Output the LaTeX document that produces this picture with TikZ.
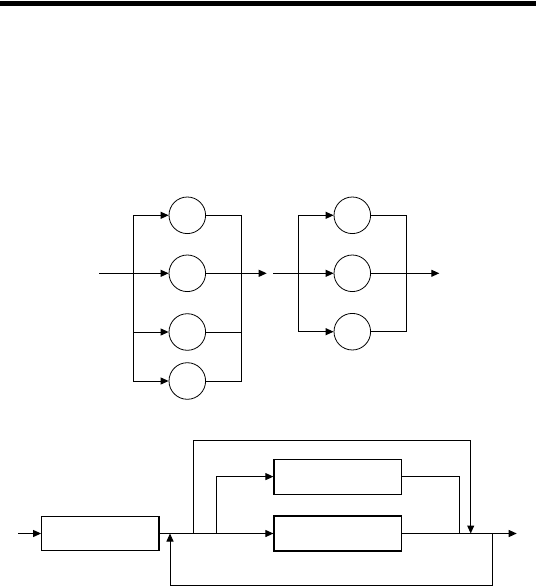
\documentclass[tikz,border=0pt]{standalone}
\usetikzlibrary{arrows.meta}
\begin{document}
\begin{tikzpicture}[x=1bp,y=-1bp,
  ln/.style={line width=1bp,black},
  arr/.style={ln,-{Triangle[length=8bp,width=7bp]}},
  circ/.style={circle,draw,line width=0.8bp,minimum size=36.6bp,inner sep=0pt},
  box/.style={rectangle,draw,line width=1.1bp,inner sep=0pt}]
\useasboundingbox (0,0) rectangle (536,588);
\fill[black] (0,1) rectangle (536,6.2);

% ---------- diagram 1 ----------
\node[circ] (c1) at (187.3,215.3) {};
\node[circ] (c2) at (187.3,273.3) {};
\node[circ] (c3) at (187.3,332) {};
\node[circ] (c4) at (187.3,381) {};
\coordinate (in1) at (99,273.3);
\coordinate (lb1) at (133.3,215.3);
\coordinate (lb2) at (133.3,273.3);
\coordinate (lb3) at (133.3,332);
\coordinate (lb4) at (133.3,381);
\coordinate (rb1) at (241.7,215.3);
\coordinate (rb3) at (241.7,332);
\coordinate (rb4) at (241.7,381);
\coordinate (out1) at (266.7,273.3);
\draw[ln] (lb1) -- (lb4);
\draw[ln] (rb1) -- (rb4);
\draw[arr] (lb1) -- (c1);
\draw[arr] (in1) -- (c2);
\draw[arr] (lb3) -- (c3);
\draw[arr] (lb4) -- (c4);
\draw[ln] (c1) -- (rb1);
\draw[ln] (c3) -- (rb3);
\draw[ln] (c4) -- (rb4);
\draw[arr] (c2) -- (out1);

% ---------- diagram 2 ----------
\node[circ] (d1) at (352.3,215.3) {};
\node[circ] (d2) at (352.3,273.3) {};
\node[circ] (d3) at (352.3,331.7) {};
\coordinate (in2) at (273.3,273.3);
\coordinate (lc1) at (298.3,215.3);
\coordinate (lc3) at (298.3,331.7);
\coordinate (rc1) at (406.7,215.3);
\coordinate (rc3) at (406.7,331.7);
\coordinate (out2) at (439.3,273.3);
\draw[ln] (lc1) -- (lc3);
\draw[ln] (rc1) -- (rc3);
\draw[arr] (lc1) -- (d1);
\draw[arr] (in2) -- (d2);
\draw[arr] (lc3) -- (d3);
\draw[ln] (d1) -- (rc1);
\draw[ln] (d3) -- (rc3);
\draw[arr] (d2) -- (out2);

% ---------- diagram 3 ----------
\node[box,minimum width=117.3bp,minimum height=34.3bp] (b1) at (100.3,533.5) {};
\node[box,minimum width=127.7bp,minimum height=35bp] (b2) at (337.8,476.6) {};
\node[box,minimum width=127.7bp,minimum height=35bp] (b3) at (337.8,533.5) {};
\coordinate (in3) at (18.3,533.5);
\coordinate (j1) at (193.3,533.5);
\coordinate (j2) at (216,533.5);
\coordinate (t1) at (193.3,440.7);
\coordinate (t2) at (470.7,440.7);
\coordinate (m1) at (459,533.5);
\coordinate (m2) at (470.7,533.5);
\coordinate (f1) at (492.3,533.5);
\coordinate (f2) at (492.3,585.7);
\coordinate (f3) at (170,585.7);
\coordinate (fb) at (170,533.5);
\coordinate (out3) at (516.7,533.5);
\draw[arr] (in3) -- (b1);
\draw[ln] (b1) -- (j2);
\draw[arr] (j2) -- (b3);
\draw[arr] (j2) |- (b2);
\draw[arr] (j1) -- (t1) -- (t2) -- (m2);
\draw[ln] (b2) -| (m1);
\draw[ln] (b3) -- (m1);
\draw[arr] (m1) -- (out3);
\draw[arr] (f1) -- (f2) -- (f3) -- (fb);
\end{tikzpicture}
\end{document}
